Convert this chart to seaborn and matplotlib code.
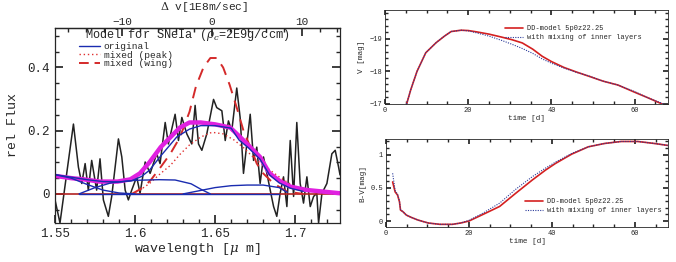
import matplotlib
matplotlib.use("Agg")
import matplotlib.pyplot as plt
from matplotlib.lines import Line2D
from matplotlib.ticker import MultipleLocator
import seaborn as sns

# ---- left panel: observed spectrum + models ----
wl_obs = [1.5500, 1.5531, 1.5573, 1.5615, 1.5646, 1.5667, 1.5688, 1.5708, 1.5729, 1.5760,
          1.5781, 1.5802, 1.5833, 1.5854, 1.5896, 1.5917, 1.5938, 1.5958, 1.5979, 1.6010,
          1.6031, 1.6063, 1.6094, 1.6135, 1.6156, 1.6188, 1.6208, 1.6250, 1.6271, 1.6292,
          1.6323, 1.6354, 1.6375, 1.6396, 1.6417, 1.6448, 1.6490, 1.6510, 1.6542, 1.6563,
          1.6583, 1.6604, 1.6635, 1.6656, 1.6677, 1.6698, 1.6719, 1.6740, 1.6760, 1.6781,
          1.6802, 1.6823, 1.6844, 1.6865, 1.6885, 1.6906, 1.6927, 1.6948, 1.6969, 1.6990,
          1.7010, 1.7031, 1.7052, 1.7073, 1.7094, 1.7115, 1.7135, 1.7146, 1.7167, 1.7198,
          1.7229, 1.7250, 1.7271, 1.7280]
flux_obs = [-0.019, -0.092, 0.065, 0.221, 0.085, 0.033, 0.096, 0.012, 0.106, 0.012,
            0.111, -0.019, -0.071, -0.008, 0.174, 0.117, 0.012, -0.019, 0.012, 0.054,
            0.002, 0.101, 0.065, 0.127, 0.096, 0.226, 0.158, 0.252, 0.169, 0.242,
            0.190, 0.158, 0.280, 0.158, 0.138, 0.190, 0.299, 0.273, 0.263, 0.169,
            0.231, 0.200, 0.335, 0.242, 0.065, 0.158, 0.252, 0.106, 0.148, 0.033,
            0.117, 0.065, 0.012, -0.040, -0.071, 0.002, 0.054, -0.040, 0.169, -0.008,
            0.226, 0.033, -0.029, 0.054, -0.040, -0.008, 0.002, -0.092, 0.002, 0.033,
            0.127, 0.138, 0.085, 0.060]

wl_fit = [1.55, 1.56, 1.568, 1.578, 1.589, 1.597, 1.603, 1.609, 1.616, 1.622, 1.628, 1.634,
          1.641, 1.65, 1.6594, 1.6656, 1.6719, 1.678, 1.684, 1.6906, 1.697, 1.707, 1.728]
flux_fit = [0.057, 0.05, 0.046, 0.039, 0.039, 0.046, 0.065, 0.10, 0.148, 0.179, 0.21, 0.226,
            0.226, 0.22, 0.21, 0.18, 0.148, 0.117, 0.065, 0.04, 0.023, 0.0125, 0.002]

wl_orig = [1.55, 1.56, 1.57, 1.58, 1.59, 1.598, 1.604, 1.609, 1.616, 1.626, 1.634, 1.641,
           1.65, 1.66, 1.665, 1.671, 1.678, 1.684, 1.69, 1.697, 1.705]
flux_orig = [0.061, 0.053, 0.045, 0.039, 0.038, 0.042, 0.055, 0.075, 0.12, 0.18, 0.205, 0.216,
             0.216, 0.208, 0.17, 0.145, 0.11, 0.06, 0.035, 0.018, 0.008]

wl_comp1 = [1.55, 1.56, 1.57, 1.58, 1.59, 1.60]
flux_comp1 = [0.061, 0.05, 0.03, 0.012, 0.003, 0.0]
wl_comp2 = [1.565, 1.575, 1.585, 1.60, 1.615, 1.625, 1.635, 1.641, 1.647]
flux_comp2 = [0.0, 0.02, 0.035, 0.043, 0.045, 0.044, 0.032, 0.015, 0.0]
wl_comp3 = [1.63, 1.64, 1.65, 1.66, 1.67, 1.68, 1.69, 1.695]
flux_comp3 = [0.0, 0.01, 0.02, 0.026, 0.028, 0.028, 0.02, 0.005]
wl_base = [1.565, 1.69]
flux_base = [0.0, 0.0]

wl_peak = [1.598, 1.603, 1.609, 1.616, 1.622, 1.628, 1.634, 1.641, 1.648, 1.655, 1.662,
           1.668, 1.675, 1.683, 1.691, 1.70, 1.71]
flux_peak = [0.0, 0.012, 0.033, 0.065, 0.09, 0.125, 0.155, 0.18, 0.195, 0.19, 0.17,
             0.145, 0.11, 0.08, 0.05, 0.022, 0.005]

wl_wing = [1.598, 1.605, 1.61, 1.616, 1.622, 1.628, 1.634, 1.638, 1.6427, 1.647, 1.651,
           1.655, 1.659, 1.6635, 1.6677, 1.672, 1.676, 1.680, 1.6865, 1.695, 1.705]
flux_wing = [0.0, 0.02, 0.045, 0.085, 0.127, 0.179, 0.26, 0.34, 0.40, 0.43, 0.43,
             0.40, 0.346, 0.273, 0.2, 0.148, 0.096, 0.065, 0.033, 0.007, 0.0]

# ---- right panels: light curves ----
t_v = [5.2, 6.2, 7.7, 9.8, 12.3, 14.3, 15.9, 18.3, 20, 22, 25, 28, 30.5, 33, 35.5, 37.8,
       40, 43, 46, 49, 52.4, 56, 60, 63, 66.6, 68]
v_dd = [-17.0, -17.44, -18.0, -18.57, -18.88, -19.08, -19.22, -19.26, -19.25, -19.21, -19.14,
        -19.05, -18.97, -18.87, -18.68, -18.46, -18.3, -18.12, -17.98, -17.85, -17.7, -17.58,
        -17.36, -17.2, -17.0, -16.9]
v_mix = [-17.0, -17.44, -18.0, -18.57, -18.88, -19.08, -19.22, -19.26, -19.24, -19.18, -19.08,
         -18.95, -18.83, -18.7, -18.55, -18.38, -18.25, -18.1, -17.97, -17.86, -17.7, -17.58,
         -17.38, -17.2, -17.02, -16.9]

t_bv = [1.6, 2.2, 2.8, 3.25, 3.5, 4.1, 4.9, 6.1, 7.7, 10.2, 13, 16, 18, 20, 23.4, 27.4,
        31.3, 35.3, 38.5, 40.9, 44.8, 48.8, 52.7, 56.7, 60.7, 64.7, 68]
bv_dd = [0.59, 0.44, 0.39, 0.29, 0.165, 0.14, 0.09, 0.055, 0.015, -0.03, -0.05, -0.05, -0.03,
         0.0, 0.1, 0.22, 0.42, 0.62, 0.77, 0.87, 1.01, 1.12, 1.17, 1.2, 1.2, 1.17, 1.14]
bv_mix = [0.72, 0.46, 0.40, 0.30, 0.17, 0.14, 0.09, 0.055, 0.015, -0.03, -0.05, -0.05, -0.03,
          0.01, 0.12, 0.27, 0.48, 0.67, 0.8, 0.89, 1.02, 1.12, 1.17, 1.2, 1.2, 1.17, 1.14]

sns.set_theme(style="ticks")
plt.rcParams['font.family'] = ['Liberation Mono', 'DejaVu Sans']
plt.rcParams['mathtext.fontset'] = 'dejavuserif'
plt.rcParams['axes.linewidth'] = 0.9

fig = plt.figure(figsize=(6.76, 2.62), dpi=100)
ax = fig.add_axes([0.0814, 0.1489, 0.4216, 0.7443])
ax_v = fig.add_axes([0.5695, 0.6031, 0.4186, 0.3588])
ax_bv = fig.add_axes([0.5710, 0.1336, 0.4172, 0.3340])


def line(a, x, y, **kw):
    sns.lineplot(x=x, y=y, ax=a, sort=False, estimator=None, **kw)


# left panel
line(ax, wl_obs, flux_obs, color='#222222', lw=1.1)
line(ax, [1.55, 1.728], [0.0, 0.0], color='#b22222', lw=1.2)
line(ax, wl_wing, flux_wing, color='#d42a2a', lw=1.4, dashes=(6, 4))
line(ax, wl_peak, flux_peak, color='#e03030', lw=1.0, dashes=(1, 2))
line(ax, wl_fit, flux_fit, color='#e020e0', lw=3.2)
blue = '#1a2cb0'
line(ax, wl_orig, flux_orig, color=blue, lw=1.0)
line(ax, wl_comp1, flux_comp1, color=blue, lw=1.0)
line(ax, wl_comp2, flux_comp2, color=blue, lw=1.0)
line(ax, wl_comp3, flux_comp3, color=blue, lw=1.0)
line(ax, wl_base, flux_base, color=blue, lw=1.0)

ax.set_xlim(1.55, 1.728)
ax.set_ylim(-0.092, 0.525)
ax.set_xticks([1.55, 1.6, 1.65, 1.7])
ax.set_xticklabels(['1.55', '1.6', '1.65', '1.7'])
ax.set_yticks([0, 0.2, 0.4])
ax.set_yticklabels(['0', '0.2', '0.4'])
ax.xaxis.set_minor_locator(MultipleLocator(0.01))
ax.yaxis.set_minor_locator(MultipleLocator(0.05))
ax.tick_params(which='both', direction='in', top=False, right=True, labelsize=9)
ax.tick_params(which='major', length=6)
ax.tick_params(which='minor', length=3)
ax.set_xlabel('wavelength [$\\mu$ m]', fontsize=9.5, labelpad=1)
ax.set_ylabel('rel Flux', fontsize=9.5, labelpad=6)

top = ax.secondary_xaxis('top', functions=(lambda x: (x - 1.648) / 0.0056,
                                           lambda v: v * 0.0056 + 1.648))
top.set_xticks([-10, 0, 10])
top.xaxis.set_minor_locator(MultipleLocator(2))
top.tick_params(which='both', direction='in', labelsize=8, pad=0.5)
top.tick_params(which='major', length=6)
top.tick_params(which='minor', length=3)
fig.text(0.302, 0.973, '$\\Delta$ v[1E8m/sec]', fontsize=8, ha='center', va='center')

ax.text(0.105, 0.962, 'Model for SNeIa ($\\rho_c$=2E9g/ccm)', transform=ax.transAxes,
        fontsize=8.6, va='center', ha='left')
h_left = [Line2D([], [], color=blue, lw=1.0),
          Line2D([], [], color='#e03030', lw=1.0, ls=(0, (1, 2))),
          Line2D([], [], color='#d42a2a', lw=1.4, ls=(0, (5, 3)))]
ax.legend(h_left, ['original', 'mixed (peak)', 'mixed (wing)'], loc='upper left',
          bbox_to_anchor=(0.085, 0.928), frameon=False, fontsize=6.8, borderpad=0,
          borderaxespad=0, handlelength=2.2, handletextpad=0.4, labelspacing=-0.05)

# right top: V light curve
red = '#d42020'
line(ax_v, t_v, v_dd, color=red, lw=1.2)
line(ax_v, t_v, v_mix, color='#2a3a9a', lw=0.8, dashes=(1, 1.2))
ax_v.set_xlim(0, 68)
ax_v.set_ylim(-17, -19.88)
ax_v.set_xticks([0, 20, 40, 60])
ax_v.set_yticks([-19, -18, -17])
ax_v.xaxis.set_minor_locator(MultipleLocator(5))
ax_v.yaxis.set_minor_locator(MultipleLocator(0.2))
ax_v.set_xlabel('time [d]', fontsize=5.5, labelpad=1)
ax_v.set_ylabel('V [mag]', fontsize=5.5, labelpad=3)
ax_v.legend([Line2D([], [], color=red, lw=1.2),
             Line2D([], [], color='#2a3a9a', lw=0.8, ls=(0, (1, 1.2)))],
            ['DD-model 5p0z22.25', 'with mixing of inner layers'], loc='upper left',
            bbox_to_anchor=(0.424, 0.84), frameon=False, fontsize=5, borderpad=0,
            borderaxespad=0, handlelength=2.6, handletextpad=0.6, labelspacing=0.3)

# right bottom: B-V colour curve
line(ax_bv, t_bv, bv_dd, color=red, lw=1.2)
line(ax_bv, t_bv, bv_mix, color='#2a3a9a', lw=0.8, dashes=(1, 1.2))
ax_bv.set_xlim(0, 68)
ax_bv.set_ylim(-0.09, 1.23)
ax_bv.set_xticks([0, 20, 40, 60])
ax_bv.set_yticks([0, 0.5, 1])
ax_bv.set_yticklabels(['0', '0.5', '1'])
ax_bv.xaxis.set_minor_locator(MultipleLocator(5))
ax_bv.yaxis.set_minor_locator(MultipleLocator(0.1))
ax_bv.set_xlabel('time [d]', fontsize=5.5, labelpad=1)
ax_bv.set_ylabel('B-V[mag]', fontsize=5.5, labelpad=3)
ax_bv.legend([Line2D([], [], color=red, lw=1.2),
              Line2D([], [], color='#2a3a9a', lw=0.8, ls=(0, (1, 1.2)))],
             ['DD-model 5p0z22.25', 'with mixing of inner layers'], loc='upper left',
             bbox_to_anchor=(0.493, 0.33), frameon=False, fontsize=5, borderpad=0,
             borderaxespad=0, handlelength=2.6, handletextpad=0.6, labelspacing=0.3)

for a in (ax_v, ax_bv):
    a.tick_params(which='both', direction='in', top=True, right=True, labelsize=5, pad=2)
    a.tick_params(which='major', length=3.5)
    a.tick_params(which='minor', length=2)
    for s in a.spines.values():
        s.set_linewidth(0.6)

fig.savefig('out.png', dpi=100)
